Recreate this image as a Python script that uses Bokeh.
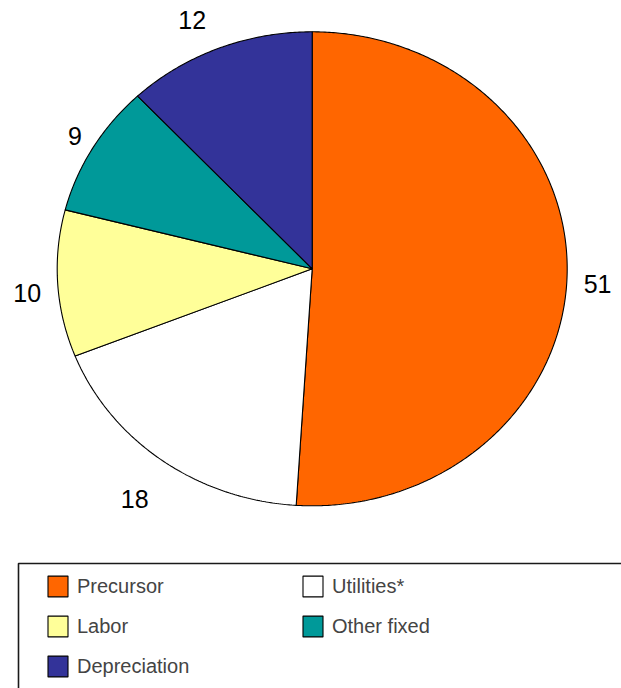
import numpy as np
from bokeh.plotting import figure
from bokeh.models import Range1d, Legend, LegendItem, BoxAnnotation, ColumnDataSource
from bokeh.core.properties import value
from bokeh.embed import file_html
from bokeh.resources import INLINE

# Cost shares (%) of the production cost breakdown
categories = ["Precursor", "Utilities*", "Labor", "Other fixed", "Depreciation"]
shares = [51, 18, 10, 9, 12]
colors = ["#FF6600", "#FFFFFF", "#FFFF99", "#009999", "#333399"]

W, H = 621, 688
CX, CY = 311.7, 268.3      # pie centre (canvas pixels)
RX, RY = 255.0, 237.0      # the pie is drawn slightly flattened
FONT = "Liberation Sans"
LABEL_PX = 25

p = figure(width=W, height=H, x_range=Range1d(0, W), y_range=Range1d(H, 0),
           output_backend="svg", toolbar_location=None, min_border=0)
p.axis.visible = False
p.grid.visible = False
p.outline_line_color = None
p.background_fill_color = "white"

# slice boundaries, clockwise from 12 o'clock
total = float(sum(shares))
bounds = np.cumsum([0] + shares) / total * 2 * np.pi
xs, ys = [], []
for a0, a1 in zip(bounds[:-1], bounds[1:]):
    t = np.linspace(a0, a1, max(int((a1 - a0) * 120), 8))
    xs.append([CX] + list(CX + RX * np.sin(t)))
    ys.append([CY] + list(CY - RY * np.cos(t)))

src = ColumnDataSource(dict(xs=xs, ys=ys, color=colors, name=categories))
pie = p.patches("xs", "ys", source=src, fill_color="color", line_color="black", line_width=1.1)

# value labels outside each slice, pushed out by roughly their own half width
texts = [str(v) for v in shares]
mid = (bounds[:-1] + bounds[1:]) / 2
half_w = np.array([0.556 * LABEL_PX * len(s) / 2 for s in texts])
lx = CX + 1.027 * RX * np.sin(mid) + 1.7 * half_w * np.sign(np.sin(mid))
ly = CY - 1.162 * RY * np.cos(mid) + 7
lab = ColumnDataSource(dict(x=lx, y=ly, text=texts))
p.text("x", "y", text="text", source=lab, text_font=value(FONT), text_font_size=f"{LABEL_PX}px",
       text_align="center", text_baseline="middle", text_color="black")

# legend frame
p.add_layout(BoxAnnotation(left=18, right=W + 20, top=563, bottom=H + 20,
                           fill_alpha=0, line_color="#1a1a1a", line_alpha=1, line_width=1.6))

items = [LegendItem(label=c, renderers=[pie], index=i) for i, c in enumerate(categories)]
legend = Legend(items=items, location=(45, 9), orientation="horizontal", ncols=2,
                glyph_width=25, glyph_height=26, label_standoff=7, label_width=209,
                label_height=21, spacing=14, padding=0, margin=0,
                border_line_color=None, background_fill_alpha=0,
                label_text_font=FONT, label_text_font_size="20px")
p.add_layout(legend)

open("out.html", "w").write(file_html(p, INLINE))
